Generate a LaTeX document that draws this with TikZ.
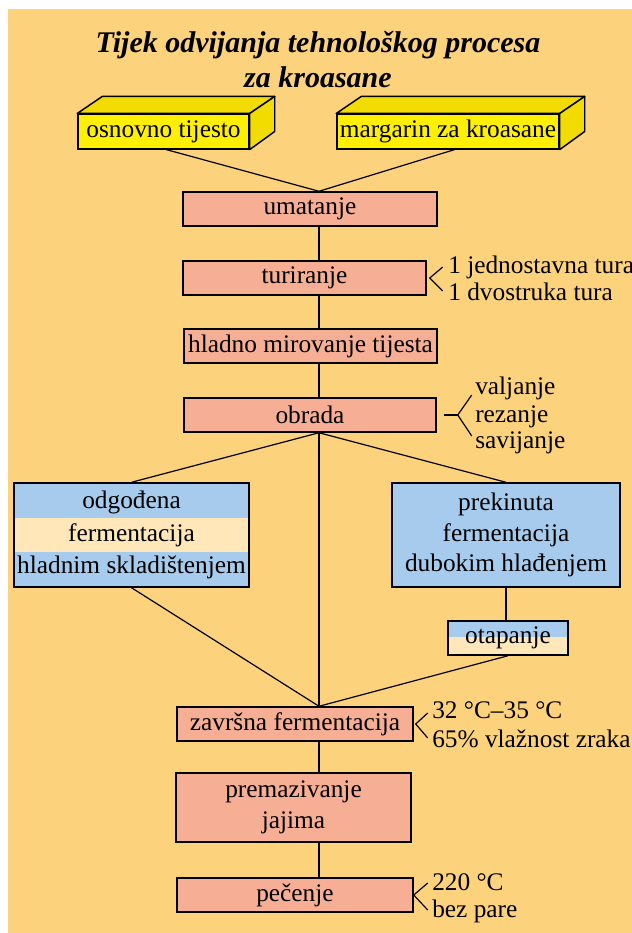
\documentclass[tikz,border=0pt]{standalone}
\usepackage{fontspec}
\setmainfont{Liberation Serif}
\usetikzlibrary{calc}
\definecolor{pozadina}{RGB}{253,210,124}
\definecolor{losos}{RGB}{246,175,148}
\definecolor{plava}{RGB}{167,203,237}
\definecolor{krem}{RGB}{255,231,186}
\definecolor{zuta}{RGB}{255,240,0}
\definecolor{zutatamna}{RGB}{242,220,0}
\newcommand{\tekst}{\fontsize{19}{23}\selectfont}
\begin{document}
\begin{tikzpicture}[x=0.75pt,y=-0.75pt]

\tikzset{korak/.style={rectangle,draw,line width=1.1pt,fill=losos,inner sep=0pt,minimum height=25.5pt,font=\tekst,align=center}}
\tikzset{ulaz/.style={korak,fill=zuta,minimum height=26pt}}
\tikzset{lice/.style={fill=zutatamna,draw,line width=1.1pt,line join=round}}
\tikzset{hladni/.style={korak,fill=plava}}
\tikzset{napomena/.style={inner sep=0pt,anchor=base west,font=\tekst}}
\tikzset{linija/.style={line width=0.9pt}}

\useasboundingbox (0,0) rectangle (632,933);
\fill[pozadina] (8,9) rectangle (632,933);
\coordinate (os) at (319,0);

\draw (318,60) node[align=center,inner sep=0pt,font=\fontsize{22.5}{26.25}\selectfont\bfseries\itshape](naslov) {Tijek odvijanja tehnološkog procesa\\za kroasane};

\draw (163.5,131.5) node[ulaz,minimum width=171*0.75pt](osn) {osnovno tijesto};
\draw[lice] (osn.north west) -- ++(25,-17) -- ([shift={(25,-17)}]osn.north east) -- (osn.north east) -- cycle;
\draw[lice] (osn.north east) -- ++(25,-17) -- ++(0,35) -- (osn.south east) -- cycle;
\draw (448,131.5) node[ulaz,minimum width=222*0.75pt](mar) {margarin za kroasane};
\draw[lice] (mar.north west) -- ++(25,-17) -- ([shift={(25,-17)}]mar.north east) -- (mar.north east) -- cycle;
\draw[lice] (mar.north east) -- ++(25,-17) -- ++(0,35) -- (mar.south east) -- cycle;

\draw (310,209) node[korak,minimum width=254*0.75pt](umat) {umatanje};
\draw (304.5,278) node[korak,minimum width=243*0.75pt](tur) {turiranje};
\draw (310.5,346) node[korak,minimum width=253*0.75pt](hlad) {hladno mirovanje tijesta};
\draw (310,415) node[korak,minimum width=252*0.75pt](ob) {obrada};

\draw (131.5,535) node[hladni,minimum width=235*0.75pt,minimum height=78pt,
  path picture={\fill[krem] ($(path picture bounding box.north west)!0.336!(path picture bounding box.south west)$) rectangle ($(path picture bounding box.north east)!0.663!(path picture bounding box.south east)$);}](lijevi) {odgođena\\[1.4pt]fermentacija\\[1.4pt]hladnim skladištenjem};
\draw (506,535) node[hladni,minimum width=228*0.75pt,minimum height=78pt](desni) {prekinuta\\fermentacija\\dubokim hlađenjem};
\draw (508,638) node[hladni,minimum width=120*0.75pt,
  path picture={\fill[krem] ($(path picture bounding box.north west)!0.47!(path picture bounding box.south west)$) rectangle (path picture bounding box.south east);}](otap) {otapanje};

\draw (295,724) node[korak,minimum width=236*0.75pt](zav) {završna fermentacija};
\draw (293.5,807.5) node[korak,minimum width=235*0.75pt,minimum height=51.75pt](prem) {premazivanje\\jajima};
\draw (295,895) node[korak,minimum width=236*0.75pt](pec) {pečenje};

\draw[linija] ([xshift=2pt]osn.south) -- (umat.north -| os);
\draw[linija] ([xshift=5pt]mar.south) -- (umat.north -| os);
\draw[linija] (umat.south -| os) -- (tur.north -| os);
\draw[linija] (tur.south -| os) -- (hlad.north -| os);
\draw[linija] (hlad.south -| os) -- (ob.north -| os);
\draw[linija] (ob.south -| os) -- (zav.north -| os);
\draw[linija] (ob.south -| os) -- (lijevi.north);
\draw[linija] (ob.south -| os) -- (desni.north);
\draw[linija] (lijevi.south) -- (zav.north -| os);
\draw[linija] (desni.south) -- (desni.south |- otap.north);
\draw[linija] (otap.south) -- (zav.north -| os);
\draw[linija] (zav.south -| os) -- (prem.north -| os);
\draw[linija] (prem.south -| os) -- (pec.north -| os);

\draw (448,273) node[napomena](tur1) {1 jednostavna tura};
\draw (448,300) node[napomena](tur2) {1 dvostruka tura};
\coordinate (turv) at ([xshift=2.25pt]tur.east);
\draw[linija] (turv) ++(13,-11) -- (turv) -- ++(13,13);

\draw (475,394) node[napomena](ob1) {valjanje};
\draw (475,422) node[napomena](ob2) {rezanje};
\draw (475,448) node[napomena](ob3) {savijanje};
\coordinate (obv) at ([xshift=5.25pt]ob.east);
\draw[linija] (obv) -- ++(14,0) coordinate (obk);
\draw[linija] (obk) ++(14,-20) -- (obk) -- ++(14,21);

\draw (432,718) node[napomena](zav1) {32 °C–35 °C};
\draw (432,747) node[napomena](zav2) {65\% vlažnost zraka};
\coordinate (zavv) at ([xshift=1.5pt]zav.east);
\draw[linija] (zavv) ++(12,-11) -- (zavv) -- ++(12,14);

\draw (432,890) node[napomena](pec1) {220 °C};
\draw (432,917) node[napomena](pec2) {bez pare};
\coordinate (pecv) at (pec.east);
\draw[linija] (pecv) ++(14,-12) -- (pecv) -- ++(14,15);

\end{tikzpicture}
\end{document}
